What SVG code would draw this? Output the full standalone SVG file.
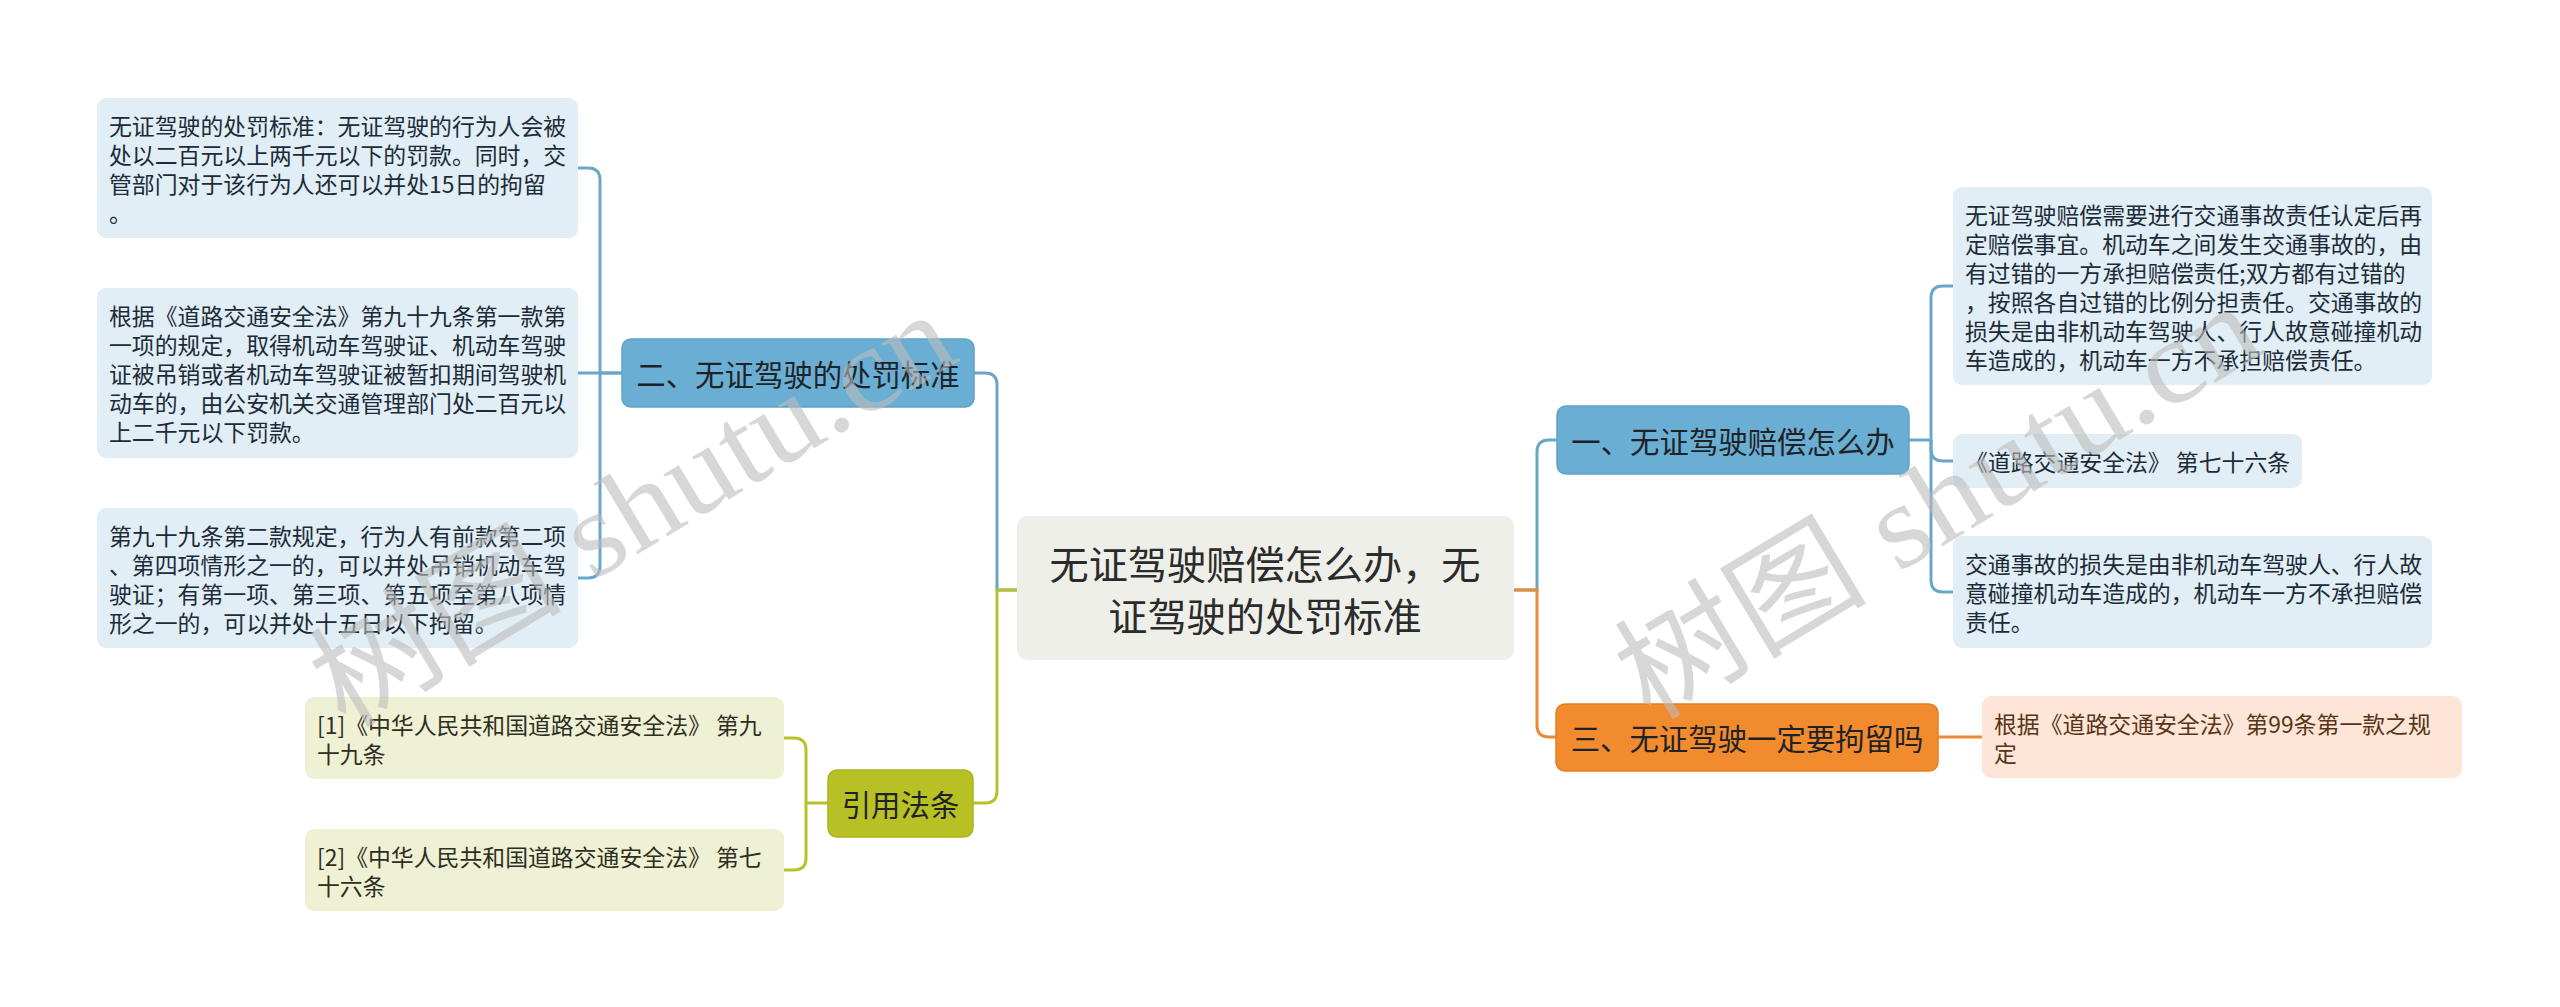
<svg xmlns="http://www.w3.org/2000/svg" width="2560" height="1007" viewBox="0 0 2560 1007">
<style>
text{font-family:"Noto Sans CJK SC","Noto Sans",sans-serif;}
.leaf{font-size:22.86px;dominant-baseline:central;}
.lb{fill:#e1eef6;}
.ly{fill:#eff1d5;}
.lo{fill:#fde6d7;}
.tb{fill:#1d2b38;}
.ty{fill:#2e2e22;}
.to{fill:#5a3416;}
.n1{font-size:29.4px;dominant-baseline:central;text-anchor:middle;fill:#1f2328;}
.cn{font-size:39.2px;dominant-baseline:central;text-anchor:middle;fill:#2b2b2b;}
.cb{fill:none;stroke:#69a6c7;stroke-width:3;}
.cy{fill:none;stroke:#b7c22a;stroke-width:3;}
.co{fill:none;stroke:#ec8a35;stroke-width:3;}
.wm{font-family:"Liberation Serif","Noto Sans CJK SC",serif;font-size:120px;fill:#bdbdbd;fill-opacity:0.6;}
</style>
<rect width="2560" height="1007" fill="#ffffff"/>
<g id="connectors">
<path class="cb" d="M622,373 H600 V180 Q600,168 588,168 H578"/>
<path class="cb" d="M622,373 H578"/>
<path class="cb" d="M600,373 V566 Q600,578 588,578 H578"/>
<path class="cb" d="M1017,590 H997 V385 Q997,373 985,373 H974"/>
<path class="cy" d="M1017,590 H997 V791 Q997,803 985,803 H973"/>
<path class="cy" d="M828,803 H806 V750 Q806,738 794,738 H784"/>
<path class="cy" d="M806,803 V858 Q806,870 794,870 H784"/>
<path class="cb" d="M1514,590 H1537 V452 Q1537,440 1549,440 H1557"/>
<path class="co" d="M1514,590 H1537 V725 Q1537,737 1549,737 H1556"/>
<path class="cb" d="M1909,440 H1931 V298 Q1931,286 1943,286 H1953"/>
<path class="cb" d="M1931,440 V449 Q1931,461 1943,461 H1953"/>
<path class="cb" d="M1931,440 V580 Q1931,592 1943,592 H1953"/>
<path class="co" d="M1938,737 H1982"/>
</g>
<g id="central">
<rect x="1017" y="516" width="497" height="144" rx="10" fill="#efefe9"/>
<text class="cn" x="1265" y="562">无证驾驶赔偿怎么办，无</text>
<text class="cn" x="1265" y="614">证驾驶的处罚标准</text>
</g>
<g id="node-er">
<rect x="622" y="339" width="352" height="68" rx="9" fill="#6aafd3" stroke="#5fa2c7" stroke-width="1.5"/>
<text class="n1" x="798" y="373">二、无证驾驶的处罚标准</text>
</g>
<g id="node-yinyong">
<rect x="828" y="770" width="145" height="67" rx="9" fill="#b8c123" stroke="#aab41e" stroke-width="1.5"/>
<text class="n1" x="900.5" y="803">引用法条</text>
</g>
<g id="node-yi">
<rect x="1557" y="406" width="352" height="68" rx="9" fill="#6aafd3" stroke="#5fa2c7" stroke-width="1.5"/>
<text class="n1" x="1733" y="440">一、无证驾驶赔偿怎么办</text>
</g>
<g id="node-san">
<rect x="1556" y="704" width="382" height="67" rx="9" fill="#f28b2d" stroke="#e57f22" stroke-width="1.5"/>
<text class="n1" x="1747" y="737">三、无证驾驶一定要拘留吗</text>
</g>
<g id="leaf-l1">
<rect class="lb" x="97" y="98" width="481" height="140" rx="9"/>
<text class="leaf tb" x="109" y="125">无证驾驶的处罚标准：无证驾驶的行为人会被</text>
<text class="leaf tb" x="109" y="154">处以二百元以上两千元以下的罚款。同时，交</text>
<text class="leaf tb" x="109" y="183">管部门对于该行为人还可以并处15日的拘留</text>
<text class="leaf tb" x="109" y="212">。</text>
</g>
<g id="leaf-l2">
<rect class="lb" x="97" y="288" width="481" height="170" rx="9"/>
<text class="leaf tb" x="109" y="315">根据《道路交通安全法》第九十九条第一款第</text>
<text class="leaf tb" x="109" y="344">一项的规定，取得机动车驾驶证、机动车驾驶</text>
<text class="leaf tb" x="109" y="373">证被吊销或者机动车驾驶证被暂扣期间驾驶机</text>
<text class="leaf tb" x="109" y="402">动车的，由公安机关交通管理部门处二百元以</text>
<text class="leaf tb" x="109" y="431">上二千元以下罚款。</text>
</g>
<g id="leaf-l3">
<rect class="lb" x="97" y="508" width="481" height="140" rx="9"/>
<text class="leaf tb" x="109" y="535">第九十九条第二款规定，行为人有前款第二项</text>
<text class="leaf tb" x="109" y="564">、第四项情形之一的，可以并处吊销机动车驾</text>
<text class="leaf tb" x="109" y="593">驶证；有第一项、第三项、第五项至第八项情</text>
<text class="leaf tb" x="109" y="622">形之一的，可以并处十五日以下拘留。</text>
</g>
<g id="leaf-y1">
<rect class="ly" x="305" y="697" width="479" height="82" rx="9"/>
<text class="leaf ty" x="317" y="724">[1]《中华人民共和国道路交通安全法》 第九</text>
<text class="leaf ty" x="317" y="753">十九条</text>
</g>
<g id="leaf-y2">
<rect class="ly" x="305" y="829" width="479" height="82" rx="9"/>
<text class="leaf ty" x="317" y="856">[2]《中华人民共和国道路交通安全法》 第七</text>
<text class="leaf ty" x="317" y="885">十六条</text>
</g>
<g id="leaf-r1">
<rect class="lb" x="1953" y="187" width="479" height="198" rx="9"/>
<text class="leaf tb" x="1965" y="214">无证驾驶赔偿需要进行交通事故责任认定后再</text>
<text class="leaf tb" x="1965" y="243">定赔偿事宜。机动车之间发生交通事故的，由</text>
<text class="leaf tb" x="1965" y="272">有过错的一方承担赔偿责任;双方都有过错的</text>
<text class="leaf tb" x="1965" y="301">，按照各自过错的比例分担责任。交通事故的</text>
<text class="leaf tb" x="1965" y="330">损失是由非机动车驾驶人、行人故意碰撞机动</text>
<text class="leaf tb" x="1965" y="359">车造成的，机动车一方不承担赔偿责任。</text>
</g>
<g id="leaf-r2">
<rect class="lb" x="1953" y="434" width="349" height="54" rx="9"/>
<text class="leaf tb" x="1965" y="461">《道路交通安全法》 第七十六条</text>
</g>
<g id="leaf-r3">
<rect class="lb" x="1953" y="536" width="479" height="112" rx="9"/>
<text class="leaf tb" x="1965" y="563">交通事故的损失是由非机动车驾驶人、行人故</text>
<text class="leaf tb" x="1965" y="592">意碰撞机动车造成的，机动车一方不承担赔偿</text>
<text class="leaf tb" x="1965" y="621">责任。</text>
</g>
<g id="leaf-o1">
<rect class="lo" x="1982" y="696" width="480" height="82" rx="9"/>
<text class="leaf to" x="1994" y="723">根据《道路交通安全法》第99条第一款之规</text>
<text class="leaf to" x="1994" y="752">定</text>
</g>
<g id="watermarks">
<text class="wm" transform="translate(345,730) rotate(-31)" textLength="720" lengthAdjust="spacingAndGlyphs">树图 shutu.cn</text>
<text class="wm" transform="translate(1650,722) rotate(-31)" textLength="720" lengthAdjust="spacingAndGlyphs">树图 shutu.cn</text>
</g>
</svg>
